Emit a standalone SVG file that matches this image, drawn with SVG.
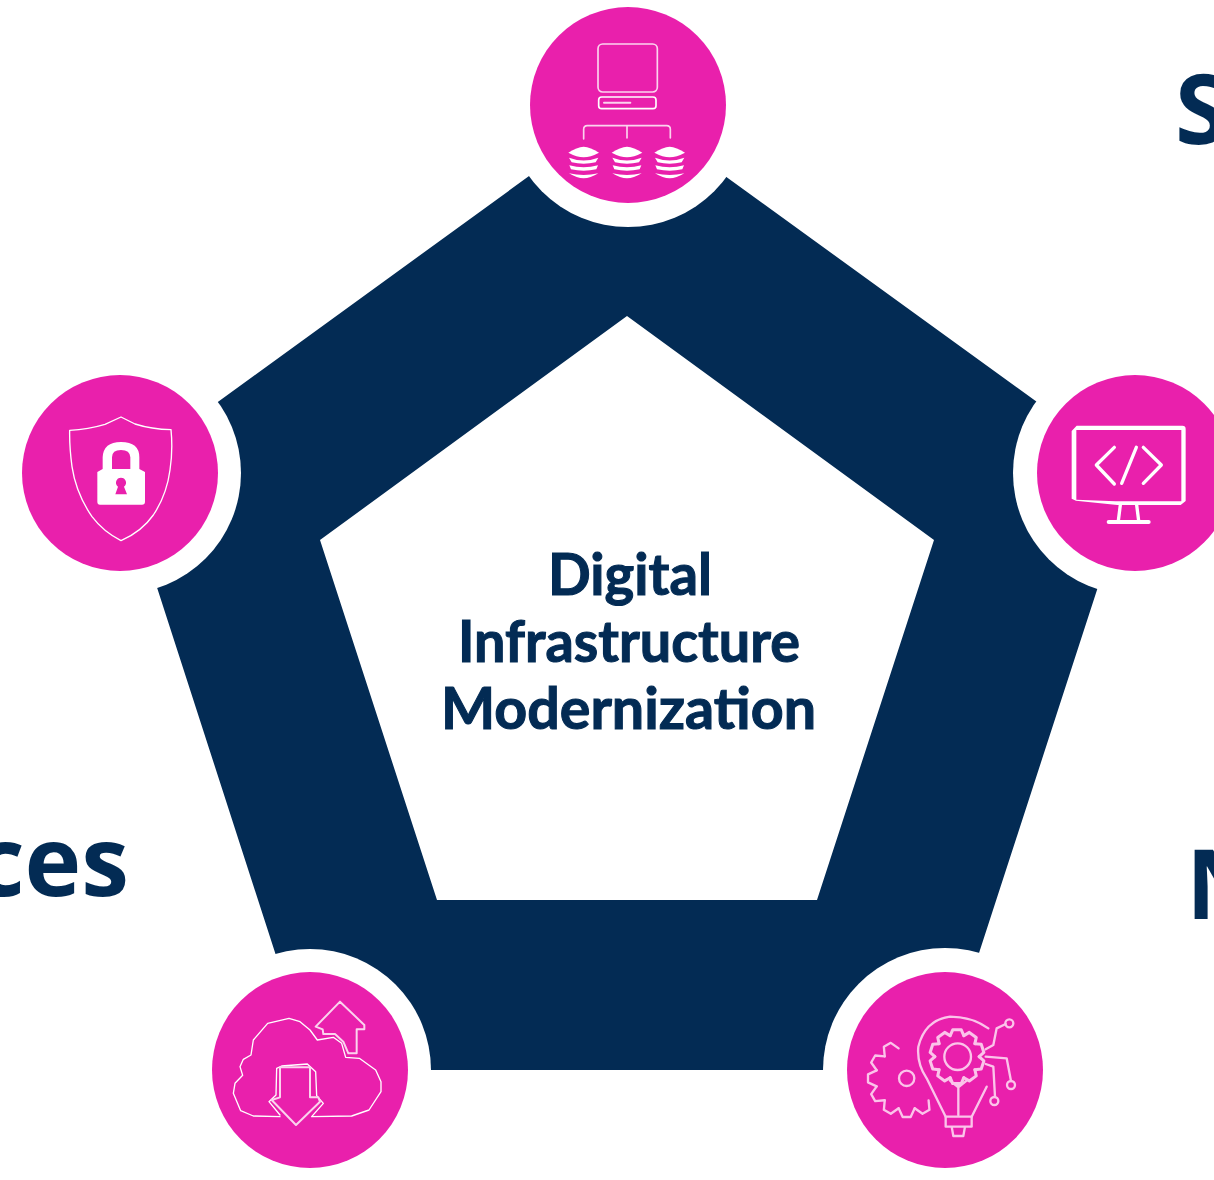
<svg xmlns="http://www.w3.org/2000/svg" xmlns:xlink="http://www.w3.org/1999/xlink" width="1214" height="1180" viewBox="0 0 1214 1180">
<style>
.big{font-family:"Open Sans","Liberation Sans",sans-serif;font-weight:700;font-size:96px;fill:#032b54}
.title{font-family:Lato,"Liberation Sans",sans-serif;font-weight:700;font-size:58px;fill:#032b54;stroke:#032b54;stroke-width:1.1;text-anchor:middle}
.ring{fill:#fff}
.disc{fill:#e920ac}
.ln{fill:none;stroke:#fff;stroke-linejoin:round;stroke-linecap:round}
.soft{stroke:#fbd3ee}
.solid{fill:#fff}
</style>
<defs>
<g id="disk">
<path d="M-46 18Q-20 2 0 0Q20 2 46 18Q20 32 0 32Q-20 32 -46 18Z" class="solid"/>
<path d="M-44 33Q0 50 44 33L36 47Q0 55 -36 47Z" class="solid"/>
<path d="M-43 56Q0 68 43 56L38 68Q0 76 -38 68Z" class="solid"/>
<path d="M-44 80Q0 90 44 80Q20 95 0 95Q-20 95 -44 80Z" class="solid"/>
</g>
<path id="t1" d="M-15.7 -48.6L-9.9 -62L9.9 -62L15.7 -48.6" />
<path id="t2" d="M-24 -90L-12 -116L12 -116L24 -90"/>
</defs>
<g id="pentagon">
<path fill="#032b54" fill-rule="evenodd" d="M627 105L1135 473L941 1070L313 1070L120 473ZM627 316L320 540L437 900L817 900L934 540Z"/>
</g>
<g id="connectors"/>
<g id="center-label">
<text class="title" x="630" y="595" textLength="164" lengthAdjust="spacingAndGlyphs">Digital</text>
<text class="title" x="629" y="662" textLength="342" lengthAdjust="spacingAndGlyphs">Infrastructure</text>
<text class="title" x="628.5" y="729" textLength="375" lengthAdjust="spacingAndGlyphs">Modernization</text>
</g>
<g id="label-s"><text class="big" x="1175" y="144">S</text></g>
<g id="label-n"><text class="big" x="1186" y="919">N</text></g>
<g id="label-ces"><text class="big" x="129" y="896" text-anchor="end">ces</text></g>

<g id="node-top">
<circle class="ring" cx="628" cy="105" r="122"/>
<circle class="disc" cx="628" cy="105" r="98"/>
<g transform="translate(520 0) scale(.33333)">
<rect class="ln soft" x="234" y="132" width="178" height="144" rx="14" stroke-width="5"/>
<rect class="ln" x="236" y="291" width="172" height="35" rx="9" stroke-width="5"/>
<path class="ln soft" d="M252 308H331" stroke-width="6"/>
<path class="ln soft" d="M191 417V388Q191 377 202 377H440Q451 377 451 388V414M321 377V414" stroke-width="5"/>
<use xlink:href="#disk" href="#disk" transform="translate(191 440)"/>
<use xlink:href="#disk" href="#disk" transform="translate(321 440)"/>
<use xlink:href="#disk" href="#disk" transform="translate(449 440)"/>
</g>
</g>

<g id="node-right">
<circle class="ring" cx="1135" cy="473" r="122"/>
<circle class="disc" cx="1135" cy="473" r="98"/>
<g transform="translate(1014 370) scale(.33333)">
<path class="solid" d="M188 167H505Q515 167 515 177V393L500 405H310L186 392L173 386V183ZM187 180V389L305 394H502V180Z" fill-rule="evenodd"/>
<path class="ln" d="M301 232L247 285L301 342M367 232L323 340M388 232L442 285L388 340" stroke-width="10"/>
<path class="ln" d="M319 405L313 452M368 405L374 452" stroke-width="10"/>
<path class="ln" d="M284 456H404" stroke-width="12"/>
</g>
</g>

<g id="node-left">
<circle class="ring" cx="120" cy="473" r="121"/>
<circle class="disc" cx="120" cy="473" r="98"/>
<g transform="translate(10 370) scale(.33333)">
<path class="ln" stroke-width="4" d="M333 141L285 163Q235 178 179 181Q178 230 186 290Q198 370 246 440Q280 485 333 512Q395 485 430 435Q470 375 480 300Q489 240 483 179Q425 178 375 162Z"/>
<path class="solid" fill-rule="evenodd" d="M262 306L278 297V262Q280 216 333 216Q388 216 388 262V297L405 306V395Q405 404 396 404H270Q262 404 262 395ZM306 297H361V262Q360 240 333 240Q306 240 306 262ZM333 323A15 15 0 0 0 324 350L316 373H351L342 350A15 15 0 0 0 333 323Z"/>
</g>
</g>

<g id="node-bottom-left">
<circle class="ring" cx="310" cy="1070" r="121"/>
<circle class="disc" cx="310" cy="1070" r="98"/>
<g transform="translate(200 960) scale(.33333)">
<path class="ln" stroke-width="4" d="M240 470L160 468L122 452L100 400L105 370L128 346L120 320L130 298L153 285L160 240L203 190L267 175L300 185L330 210L352 240L400 232L425 250L437 292L478 295L527 330L543 365L543 395L507 450L455 468L335 470L370 430L350 407L347 335L322 312L245 318L230 325L228 405L207 425L240 465"/>
<path class="ln soft" stroke-width="6" d="M420 125L493 195V208H470V280H445L430 245L405 222H370L368 208L347 200Z"/>
<path class="ln soft" stroke-width="6" d="M240 322H330V412H355L360 425L288 495L215 420L240 412Z"/>
</g>
</g>

<g id="node-bottom-right">
<circle class="ring" cx="945" cy="1070" r="122"/>
<circle class="disc" cx="945" cy="1070" r="98"/>
<g transform="translate(825 950) scale(.33333)" fill="none" stroke="#fbc4ea" stroke-width="7" stroke-linejoin="round" stroke-linecap="round">
<path d="M490 235Q440 200 375 200Q300 210 280 290Q275 340 305 385L362 500M485 410L440 500"/>
<path d="M362 500H440V530H362ZM380 530H420L415 558H385Z"/>
<path d="M400 402V495M375 392L400 412L425 392"/>
<circle cx="398" cy="320" r="40"/>
<g transform="translate(396 320) scale(1.3)">
<use href="#t1"/><use href="#t1" transform="rotate(36)"/><use href="#t1" transform="rotate(72)"/><use href="#t1" transform="rotate(108)"/><use href="#t1" transform="rotate(144)"/><use href="#t1" transform="rotate(180)"/><use href="#t1" transform="rotate(216)"/><use href="#t1" transform="rotate(252)"/><use href="#t1" transform="rotate(288)"/><use href="#t1" transform="rotate(324)"/>
</g>
<circle cx="245" cy="385" r="23"/>
<g transform="translate(245 385)">
<use href="#t2" transform="rotate(-30)"/><use href="#t2" transform="rotate(-60)"/><use href="#t2" transform="rotate(-90)"/><use href="#t2" transform="rotate(-120)"/><use href="#t2" transform="rotate(-150)"/><use href="#t2" transform="rotate(-180)"/><use href="#t2" transform="rotate(150)"/>
</g>
<path d="M482 298L505 285L515 235L542 222M482 320L545 325L558 393M482 342L505 350L510 440"/>
<circle cx="553" cy="220" r="12"/><circle cx="558" cy="405" r="12"/><circle cx="508" cy="453" r="12"/>
</g>
</g>
</svg>
